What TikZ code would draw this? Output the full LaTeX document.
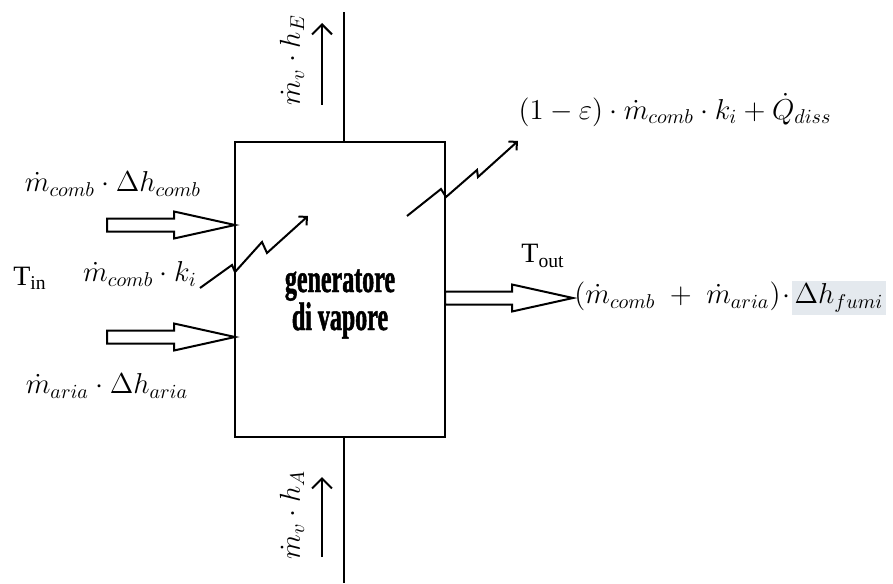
\documentclass[tikz,border=0pt]{standalone}
\usepackage{fontspec}
\setmainfont{Liberation Serif}
\newfontfamily\genfont{Liberation Serif}[FakeStretch=0.6, FakeBold=1.2]
\usetikzlibrary{arrows.meta,positioning}
\definecolor{hilite}{HTML}{E4E9EE}

\begin{document}
\begin{tikzpicture}[x=0.5pt, y=-0.5pt, >={Straight Barb[length=4pt,width=8pt]},
  blk/.style={draw, line width=1pt, minimum width=105pt, minimum height=147.5pt, inner sep=0pt},
  lbl/.style={font=\fontsize{14}{16}\selectfont, inner sep=0pt},
  e/.style={line width=1pt},
  heat/.style={->, line width=1pt, >={Straight Barb[length=3pt,width=6pt]}},
  hollow/.pic={\draw[line width=1pt] (0,0) -- (-61,-13.5) -- (-61,-6.5) -- (-128,-6.5)
    -- (-128,6.5) -- (-61,6.5) -- (-61,13.5) -- cycle;}]
\useasboundingbox (0,0) rectangle (893,583);
\node[blk] (gen) at (340,289.5) {};
\node[font=\genfont\bfseries\fontsize{20}{19}\selectfont, align=center] (gtxt) at (340,304) {generatore\\di vapore};
% vapore in / out
\coordinate (vtop) at (344,12);
\coordinate (vbot) at (344,583);
\draw[e] (vtop |- gen.north) -- (vtop);
\draw[e] (vbot |- gen.south) -- (vbot);
\coordinate (ue0) at (322,105); \coordinate (ue1) at (322,23);
\coordinate (ua0) at (322,557); \coordinate (ua1) at (322,477);
\draw[e, ->, >={Straight Barb[length=5pt,width=10pt]}] (ue0) -- (ue1);
\draw[e, ->, >={Straight Barb[length=5pt,width=10pt]}] (ua0) -- (ua1);
\node[lbl, rotate=90] (hE) at (292,60) {$\dot m_v\cdot h_E$};
\node[lbl, rotate=90] (hA) at (292,515) {$\dot m_v\cdot h_A$};
% flussi in ingresso
\pic at (235,225) {hollow};
\pic at (235,337) {hollow};
\node[lbl] (qcomb) at (113,184) {$\dot m_{comb}\cdot\Delta h_{comb}$};
\node[lbl] (tin) at (30,278) {T$_{\mathrm{in}}$};
\node[lbl] (kcomb) at (140,274) {$\dot m_{comb}\cdot k_i$};
\node[lbl] (qaria) at (107,386) {$\dot m_{aria}\cdot\Delta h_{aria}$};
\draw[heat] (200,288) -- (232,265) -- (235,272) -- (262,242) -- (267,253) -- (308,216);
% uscite
\draw[heat] (407,216) -- (441,189) -- (446,197) -- (477,170) -- (478,177) -- (518,141);
\node[lbl] (qout) at (675,110) {$(1-\varepsilon)\cdot\dot m_{comb}\cdot k_i+\dot Q_{diss}$};
\pic at (573,298) {hollow};
\node[lbl] (tout) at (543,256) {T$_{\mathrm{out}}$};
\node[lbl, anchor=west] (fumi) at (574,298) {\setlength{\fboxsep}{1.5pt}$(\dot m_{comb}\;+\;\dot m_{aria})\!\cdot\!\colorbox{hilite}{$\Delta h_{fumi}$}$};
\end{tikzpicture}
\end{document}
